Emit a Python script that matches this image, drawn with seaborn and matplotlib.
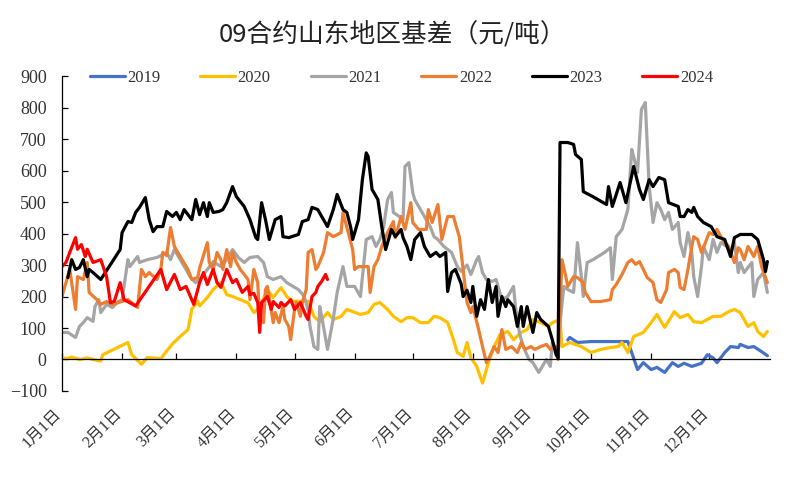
'''09合约山东地区基差 chart'''

### IMPORTS ###

import matplotlib
matplotlib.use('Agg')
import matplotlib.pyplot as plt
import matplotlib.transforms as mtransforms
import seaborn as sns
import pandas as pd

### DATA ###
# day of year (0 = 1月1日) and basis value (元/吨)

d2019 = [261, 262, 266, 273, 287, 292, 294, 297, 300, 304, 307, 311, 315, 318, 321, 325,
         330, 333, 336, 338, 342, 345, 349, 350, 354, 357, 361, 364]
v2019 = [62, 70, 54, 57, 57, 57, 22, -32, -10, -32, -25, -41, -10, -22, -12, -22,
         -12, 15, 5, -10, 22, 41, 38, 48, 38, 41, 25, 12]

d2020 = [0, 3, 5, 9, 13, 18, 20, 21, 34, 36, 41, 44, 51, 57, 61, 65, 67, 70, 71, 75,
         78, 82, 85, 88, 92, 96, 99, 102, 106, 109, 113, 116, 119, 127, 130, 133, 137,
         140, 144, 147, 150, 154, 158, 161, 164, 168, 171, 175, 178, 181, 185, 189, 192,
         195, 199, 202, 204, 207, 209, 211, 214, 217, 220, 223, 226, 230, 233, 237, 240,
         243, 247, 251, 253, 257, 258, 262, 268, 273, 278, 283, 287, 289, 292, 295, 300,
         304, 307, 311, 316, 319, 323, 326, 330, 333, 336, 340, 344, 347, 350, 354, 357,
         359, 362, 364]
v2020 = [5, 3, 8, 0, 5, -3, -5, 15, 54, 15, -15, 6, 3, 50, 73, 95, 160, 185, 170, 197,
         222, 245, 206, 200, 190, 180, 149, 165, 222, 197, 228, 200, 185, 185, 137, 120, 149,
         127, 137, 159, 152, 143, 149, 175, 181, 159, 137, 120, 133, 133, 117, 117, 137,
         133, 117, 63, 22, 10, 54, 6, -22, -75, -10, 41, 79, 89, 63, 86, 95,
         127, 117, 105, 117, 127, 41, 54, 41, 22, 32, 38, 41, 54, 22, 73, 86,
         117, 143, 102, 152, 133, 143, 120, 117, 127, 137, 137, 152, 159, 149, 105, 117,
         89, 73, 89]

d2021 = [1, 3, 7, 9, 11, 13, 16, 17, 19, 20, 23, 26, 29, 31, 33, 34, 35, 39, 40, 44,
         49, 52, 54, 56, 58, 61, 64, 66, 69, 71, 75, 78, 82, 85, 88, 91, 94, 97, 101, 104,
         106, 109, 113, 116, 122, 125, 127, 128, 130, 132, 133, 134, 137, 140, 142, 145,
         147, 151, 154, 157, 160, 162, 164, 166, 168, 170, 171, 174, 176, 177, 179, 181,
         182, 185, 188, 190, 192, 194, 197, 201, 204, 206, 209, 211, 214, 215, 217, 219,
         222, 224, 227, 230, 233, 234, 236, 238, 241, 243, 246, 250, 252, 253, 256, 257,
         259, 261, 264, 266, 268, 269, 271, 274, 280, 283, 284, 286, 289, 292, 294, 295,
         297, 299, 301, 303, 305, 307, 309, 311, 313, 315, 318, 319, 321, 323, 325, 326,
         328, 330, 331, 334, 336, 338, 340, 343, 345, 347, 349, 350, 352, 356, 357, 359,
         362, 364]
v2021 = [86, 86, 70, 105, 117, 133, 121, 168, 190, 149, 175, 165, 184, 190, 276, 317, 295, 327, 308, 317,
         324, 333, 340, 317, 349, 317, 286, 263, 244, 254, 286, 311, 295, 317, 349, 324, 308, 324, 327, 308,
         263, 254, 263, 244, 222, 200, 159, 105, 41, 32, 168, 137, 32, 130, 213, 295,
         232, 232, 200, 381, 390, 359, 381, 422, 508, 530, 467, 454, 444, 613, 625, 530,
         508, 476, 444, 422, 390, 381, 359, 340, 295, 280, 300, 270, 317, 327, 276, 254,
         248, 254, 190, 200, 232, 168, 86, 41, 0, -10, -41, 0, -22, 54, 20, 117,
         232, 222, 213, 371, 263, 200, 308, 317, 340, 355, 254, 390, 413, 476, 667, 644,
         594, 794, 816, 549, 435, 498, 476, 444, 467, 413, 435, 371, 327, 403, 340, 263,
         200, 295, 359, 317, 381, 340, 371, 359, 340, 371, 276, 308, 276, 308, 200, 254,
         276, 213]

d2022 = [0, 4, 7, 8, 11, 13, 14, 18, 20, 23, 26, 34, 39, 41, 43, 45, 49, 51, 52, 54,
         56, 58, 61, 65, 67, 70, 71, 75, 76, 78, 80, 82, 83, 85, 87, 88, 90, 92, 96, 97,
         99, 101, 102, 104, 105, 106, 109, 110, 112, 114, 115, 117, 118, 120, 121, 123,
         124, 126, 127, 129, 131, 132, 135, 137, 140, 144, 145, 147, 150, 151, 153, 158,
         159, 161, 163, 165, 168, 171, 172, 175, 177, 180, 181, 184, 188, 189, 191, 194,
         196, 199, 202, 205, 207, 209, 211, 212, 215, 217, 219, 220, 223, 225, 227, 229,
         232, 235, 237, 239, 242, 244, 247, 250, 252, 255, 256, 258, 260, 261, 264, 266,
         269, 270, 273, 278, 283, 284, 286, 289, 292, 294, 296, 298, 300, 302, 305, 307,
         309, 312, 313, 316, 318, 319, 321, 323, 325, 326, 328, 330, 331, 334, 336, 338,
         340, 342, 344, 347, 349, 350, 352, 354, 357, 359, 361, 364]
v2022 = [200, 286, 159, 263, 254, 308, 213, 190, 175, 184, 175, 190, 165, 286, 263, 276, 254, 286, 340, 330,
         419, 359, 327, 286, 254, 260, 290, 371, 308, 286, 340, 317, 286, 349, 295, 340, 308, 286, 254, 190,
         286, 244, 127, 117, 222, 232, 117, 149, 117, 168, 127, 105, 63, 159, 181, 137,
         181, 222, 340, 349, 286, 295, 340, 403, 390, 403, 467, 419, 349, 286, 295, 295,
         213, 295, 317, 359, 403, 438, 387, 454, 413, 498, 435, 413, 413, 476, 435, 492,
         381, 454, 454, 390, 286, 181, 149, 168, 95, 41, -10, 0, 41, 22, 95, 32,
         41, 22, 54, 32, 41, 32, 41, 48, 32, 40, 0, 317, 263, 232, 263, 260,
         244, 213, 184, 184, 190, 222, 238, 270, 308, 317, 302, 311, 286, 260, 244, 190,
         181, 222, 276, 286, 276, 229, 222, 286, 359, 390, 381, 340, 355, 403, 397, 413,
         390, 371, 359, 308, 355, 349, 317, 359, 327, 359, 295, 244]

d2023 = [3, 5, 7, 9, 11, 13, 14, 16, 20, 30, 31, 34, 36, 38, 40, 43, 45, 47, 49, 52,
         54, 57, 59, 61, 63, 65, 67, 69, 71, 73, 75, 76, 78, 81, 83, 85, 88, 90, 94, 97,
         100, 101, 103, 105, 107, 110, 113, 114, 117, 122, 124, 127, 129, 132, 134, 137,
         140, 142, 145, 147, 149, 150, 153, 155, 157, 158, 160, 163, 165, 167, 170, 172,
         175, 176, 178, 180, 182, 185, 187, 190, 193, 195, 198, 199, 201, 203, 206, 207,
         209, 211, 212, 214, 216, 218, 220, 222, 224, 225, 227, 229, 230, 233, 235, 237,
         238, 240, 243, 245, 247, 251, 253, 255, 256, 257, 261, 264, 265, 268, 269, 274,
         281, 282, 284, 288, 291, 295, 298, 300, 303, 305, 308, 311, 313, 318, 319, 321,
         323, 325, 326, 328, 331, 335, 338, 342, 345, 347, 350, 356, 359, 362, 363, 364]
v2023 = [260, 317, 286, 292, 317, 263, 286, 276, 254, 349, 403, 438, 435, 467, 483, 514, 444, 406, 422, 422,
         470, 454, 467, 444, 476, 460, 444, 508, 460, 498, 454, 498, 467, 470, 476, 498, 549, 517, 486, 444,
         387, 381, 498, 444, 381, 444, 454, 390, 387, 397, 438, 444, 483, 476, 454, 422,
         476, 524, 476, 467, 419, 381, 444, 571, 656, 644, 540, 508, 422, 349, 413, 390,
         413, 387, 359, 317, 381, 403, 359, 327, 340, 327, 340, 216, 276, 286, 240, 200,
         220, 181, 232, 137, 190, 159, 254, 181, 232, 137, 200, 168, 190, 168, 105, 168,
         105, 168, 86, 149, 127, 105, 63, 15, 5, 689, 689, 683, 651, 635, 533, 517,
         492, 549, 486, 562, 498, 613, 540, 508, 571, 549, 578, 571, 498, 486, 454, 454,
         476, 467, 483, 454, 435, 422, 390, 381, 327, 387, 397, 397, 381, 317, 279, 311]

d2024 = [0, 2, 4, 7, 8, 10, 12, 13, 16, 20, 23, 25, 27, 30, 32, 38, 51, 54, 58, 61,
         64, 68, 71, 73, 75, 78, 80, 82, 85, 88, 90, 93, 96, 97, 99, 101, 102, 103, 106, 108,
         109, 112, 113, 115, 118, 120, 123, 126, 127, 129, 131, 132, 134, 136, 137]
v2024 = [295, 308, 340, 387, 350, 365, 327, 350, 308, 317, 263, 180, 185, 244, 190, 170, 286, 222, 270, 222,
         232, 175, 244, 276, 238, 286, 244, 229, 286, 244, 254, 213, 232, 206, 210, 181, 86, 181, 200, 159,
         184, 165, 181, 170, 190, 159, 181, 137, 127, 200, 213, 232, 248, 270, 254]

years = ['2019', '2020', '2021', '2022', '2023', '2024']
colors = ['#4472C4', '#FFC000', '#A5A5A5', '#ED7D31', '#000000', '#FF0000']
month_labels = ['1月1日', '2月1日', '3月1日', '4月1日', '5月1日', '6月1日',
                '7月1日', '8月1日', '9月1日', '10月1日', '11月1日', '12月1日']
title = '09合约山东地区基差（元/吨）'

### PLOT ###

sns.set_theme(style='white')
plt.rcParams['font.family'] = ['Liberation Serif', 'Noto Sans CJK SC']
plt.rcParams['axes.unicode_minus'] = True

base = pd.Timestamp('2023-01-01')
days = [d2019, d2020, d2021, d2022, d2023, d2024]
vals = [v2019, v2020, v2021, v2022, v2023, v2024]

fig = plt.figure(figsize=(7.86, 4.86), dpi=100)
ax = fig.add_axes([0.0789, 0.1955, 0.9011, 0.648])

for yr, d, v, c in zip(years, days, vals, colors):
    x = base + pd.to_timedelta(d, unit='D')
    sns.lineplot(x=x, y=v, color=c, lw=2.3, label=yr, ax=ax)

ax.set_xlim(base, base + pd.Timedelta(days=365.5))
ax.set_ylim(-100, 900)
ax.set_yticks(range(-100, 1000, 100))
ax.set_xticks(pd.date_range('2023-01-01', periods=12, freq='MS'))
ax.set_xticklabels(month_labels)

ax.spines['bottom'].set_position(('data', 0))
for s in ['top', 'right']:
    ax.spines[s].set_visible(False)
for s in ['left', 'bottom']:
    ax.spines[s].set_color('black')
    ax.spines[s].set_linewidth(0.9)

ax.tick_params(axis='x', bottom=True, direction='in', length=4, width=0.9,
               color='black', pad=33, labelsize=11.5, labelcolor='#333333',
               labelrotation=45)
ax.tick_params(axis='y', left=True, direction='in', length=4, width=0.9,
               color='black', pad=11, labelsize=13, labelcolor='#333333')
# nudge the slanted date labels a little left, like the original
shift = mtransforms.ScaledTranslation(-6 / 72, 0, fig.dpi_scale_trans)
for lab in ax.get_xticklabels():
    lab.set_horizontalalignment('right')
    lab.set_rotation_mode('anchor')
    lab.set_transform(lab.get_transform() + shift)
ax.set_xlabel('')
ax.set_ylabel('')

ax.legend(loc='center', bbox_to_anchor=(0.479, 0.995), ncol=6, frameon=False,
          handlelength=2.1, handletextpad=0.15, columnspacing=2.4, fontsize=12,
          labelcolor='#333333')

fig.text(0.5, 1 - 35 / 486, title, ha='center', va='center', fontsize=18.5,
         family=['Noto Sans CJK SC'], color='#222222')

plt.savefig('out.png', dpi=100)
